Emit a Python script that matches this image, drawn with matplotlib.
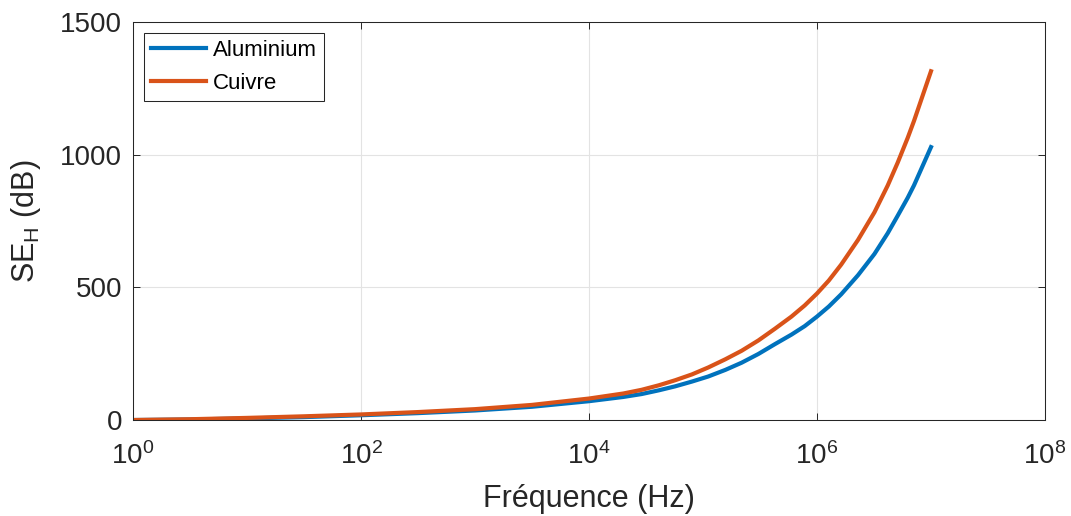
"""
Blindage magnetique : SE_H en fonction de la frequence (aluminium / cuivre).
Valeurs relevees sur la figure d'origine.
"""
import matplotlib
matplotlib.use("Agg")
import matplotlib.pyplot as plt

plt.rcParams['font.family'] = ['Liberation Sans', 'DejaVu Sans']
plt.rcParams['mathtext.fontset'] = 'custom'
plt.rcParams['mathtext.rm'] = 'Liberation Sans'

FREQ = [1, 3.16, 10, 31.6, 100, 316, 1e3, 3.16e3, 1e4, 2e4,
        2.9e4, 4.1e4, 5.7e4, 8e4, 1.11e5, 1.57e5, 2.18e5, 3.06e5, 4.27e5, 5.97e5,
        7.8e5, 1e6, 1.27e6, 1.63e6, 2.29e6, 3.19e6, 4.17e6, 5.1e6, 6.25e6, 7.1e6,
        1e7]
SE_ALU = [0, 2, 6, 11, 18, 26, 36, 50, 71, 87,
          98, 112, 127, 145, 164, 189, 216, 249, 286, 322,
          354, 390, 428, 474, 546, 626, 704, 770, 838, 885,
          1029]
SE_CUIVRE = [0, 3, 8, 14, 21, 30, 41, 57, 81, 100,
             114, 131, 150, 172, 198, 229, 261, 300, 344, 390,
             432, 477, 526, 586, 679, 783, 884, 970, 1064, 1128,
             1315]

XTICKS = [1, 1e2, 1e4, 1e6, 1e8]
YTICKS = [0, 500, 1000, 1500]

AX_COLOR = '#262626'


def main():
    fig = plt.figure(figsize=(10.71, 5.16), dpi=100)
    ax = fig.add_axes([0.1242, 0.186, 0.8515, 0.771])

    ax.plot(FREQ, SE_ALU, color='#0072BD', lw=3, label='Aluminium')
    ax.plot(FREQ, SE_CUIVRE, color='#D95319', lw=3, label='Cuivre')

    ax.set_xscale('log')
    ax.set_xlim(1, 1e8)
    ax.set_ylim(0, 1500)
    ax.set_xticks(XTICKS)
    ax.xaxis.set_minor_locator(matplotlib.ticker.NullLocator())
    ax.set_yticks(YTICKS)

    ax.grid(True, color='#e3e3e3', lw=0.8)
    ax.set_axisbelow(True)
    ax.tick_params(which='both', direction='in', top=True, right=True,
                   labelsize=20, colors=AX_COLOR, length=5, width=0.7, pad=8)
    ax.tick_params(axis='x', pad=16)
    for s in ax.spines.values():
        s.set_color(AX_COLOR)
        s.set_linewidth(0.75)

    ax.set_xlabel('Fréquence (Hz)', fontsize=22, color=AX_COLOR, labelpad=10)
    ax.set_ylabel(r'SE$_\mathregular{H}$ (dB)', fontsize=22, color=AX_COLOR, labelpad=12)

    leg = ax.legend(loc='upper left', fontsize=16, fancybox=False, framealpha=1,
                    handlelength=2.5, handletextpad=0.3, borderpad=0.3,
                    labelspacing=0.55, borderaxespad=0.5)
    leg.get_frame().set_edgecolor(AX_COLOR)
    leg.get_frame().set_linewidth(0.75)

    fig.savefig('out.png', dpi=100)


if __name__ == '__main__':
    main()
